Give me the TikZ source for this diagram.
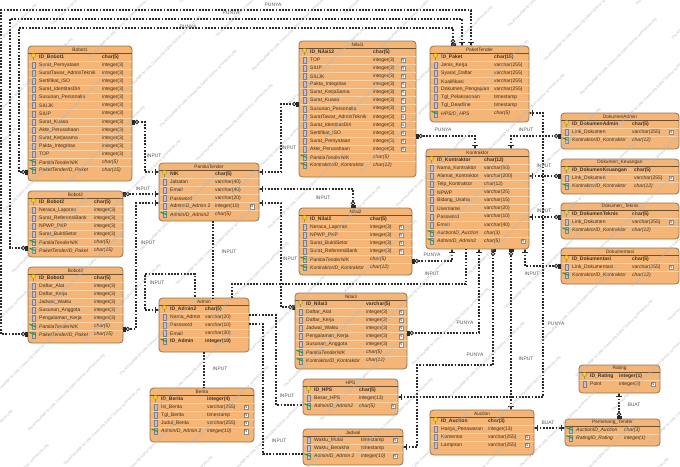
\documentclass[tikz,border=0pt]{standalone}
\usepackage{fontspec}
\setmainfont{Liberation Sans}
\usetikzlibrary{arrows.meta}

\definecolor{erfill}{HTML}{F4B577}
\definecolor{erline}{HTML}{94744F}
\definecolor{errow}{HTML}{FAD4A8}
\definecolor{ertext}{HTML}{3E2F20}
\definecolor{reldash}{HTML}{2A2A2A}

\tikzset{
  onemark/.tip={Bar[width=5.5pt,line width=.8pt]Square[length=3pt,width=1.1pt]},
  zeromark/.tip={Circle[open,fill=white,length=4.4pt,width=4.4pt,line width=.9pt]Square[length=2.6pt,width=5pt]},
  erbox/.style={draw=erline,line width=.8pt,fill=erfill,rounded corners=3.5pt,anchor=north west,inner sep=0pt,outer sep=0pt},
  ertitle/.style={inner sep=0pt,text=ertext,font=\fontsize{4.8}{5}\selectfont},
  ercell/.style={anchor=west,inner sep=0pt,text=ertext,font=\fontsize{5}{5.5}\selectfont},
  nullbox/.style={draw=black!45,fill=white!85!erfill,line width=.3pt,minimum size=4.6pt,inner sep=0pt,text=black!70,font=\fontsize{3.8}{4}\selectfont},
  rel/.style={draw=reldash,line width=1.1pt,dash pattern=on 1.7pt off 1.5pt},
  rellabel/.style={inner sep=0pt,text=black!65,font=\fontsize{5}{5.5}\selectfont},
  watermark/.style={rotate=45,anchor=west,inner sep=0pt,text=black!28,font=\fontsize{3.5}{4}\selectfont}
}

\newcommand{\colicon}{%
  \draw[draw=black!50,fill=blue!45!gray!35,line width=.3pt] (\rx-1.8,\ry-3) rectangle (\rx+1.8,\ry+3);}
\newcommand{\fkicon}{\colicon
  \draw[green!55!black!85,line width=1.2pt] (\rx-4,\ry-2.4) -- (\rx+2.5,\ry+.2);}
\newcommand{\nullicon}{\node (\tname-\n-null) [nullbox] at (\nulx,\ry) {N};}
\newcommand{\iconk}{\def\colfont{\bfseries}
  \draw[draw=yellow!55!black,line width=.8pt] (\rx,\ry-1) -- (\rx,\ry+3.2);
  \draw[draw=yellow!50!black,fill=yellow!75!orange,line width=.4pt] (\rx,\ry-1.6) circle (2);}
\newcommand{\iconc}{\colicon}
\newcommand{\iconn}{\colicon\nullicon}
\newcommand{\iconf}{\def\colfont{\itshape}\fkicon}
\newcommand{\icong}{\def\colfont{\itshape}\fkicon\nullicon}
\newcommand{\iconb}{\def\colfont{\bfseries}\fkicon}

% name, x1, y1, x2, y2, title, type column, null column, rows
\newcommand{\ertable}[9]{%
  \node (#1) [erbox,minimum width=#4pt-#2pt,minimum height=#5pt-#3pt] at (#2,#3) {};
  \node (#1-title) [ertitle] at ({(#2+#4)/2},#3+3.6) {#6};
  \draw[erline!70!black,line width=.5pt] (#2,#3+7) -- (#4,#3+7);
  \def\tname{#1}\def\nulx{#8}\pgfmathsetmacro{\rx}{#2+5.5}
  \foreach \kind/\colname/\coltype [count=\n] in {#9} {
    \pgfmathsetmacro{\ry}{#3+11+8.1*(\n-1)}
    \ifnum\n>1 \draw[errow,line width=.4pt] (#2+.5,\ry-4.05) -- (#4-.5,\ry-4.05);\fi
    \let\colfont\relax
    \csname icon\kind\endcsname
    \node (#1-\n) [ercell] at (#2+11,\ry) {\colfont\colname};
    \node (#1-\n-type) [ercell] at (#7,\ry) {\colfont\coltype};
  }
}

\begin{document}
\begin{tikzpicture}[x=1pt,y=-1pt]
  \useasboundingbox (0,0) rectangle (680,466);

  \ertable{Bobot1}{28}{46}{132}{181}{Bobot1}{102}{0}{k/ID\_Bobot1/char(5),
    c/Surat\_Pernyataan/integer(3),c/SuratTawar\_AdminTeknik/integer(3),c/Sertifikat\_ISO/integer(3),
    c/Surat\_IdentitasDiri/integer(3),c/Susunan\_Personalia/integer(3),c/SIUJK/integer(3),c/SIUP/integer(3),
    c/Surat\_Kuasa/integer(3),c/Akte\_Perusahaan/integer(3),c/Surat\_Kerjasama/integer(3),
    c/Pakta\_Integritas/integer(3),c/TOP/integer(3),f/PanitiaTenderNIK/char(5),f/PaketTenderID\_Paket/char(15)}
  \ertable{Bobot2}{28}{191}{123}{257}{Bobot2}{94}{0}{k/ID\_Bobot2/char(5),
    c/Neraca\_Laporan/integer(3),c/Surat\_ReferensiBank/integer(3),c/NPWP\_PKP/integer(3),
    c/Surat\_BuktiSetor/integer(3),f/PanitiaTenderNIK/char(5),f/PaketTenderID\_Paket/char(15)}
  \ertable{Bobot3}{28}{267}{123}{343}{Bobot3}{94}{0}{k/ID\_Bobot3/char(5),
    c/Daftar\_Alat/integer(3),c/Daftar\_Kerja/integer(3),c/Jadwal\_Waktu/integer(3),c/Susunan\_Anggota/integer(3),
    c/Pengalaman\_Kerja/integer(3),f/PanitiaTenderNIK/char(5),f/PaketTenderID\_Paket/char(15)}
  \ertable{PanitiaTender}{159}{163}{259}{221}{PanitiaTender}{215}{252}{k/NIK/char(5),
    c/Jabatan/varchar(40),c/Email/varchar(40),c/Password/varchar(20),n/AdminID\_Admin 2/integer(10),
    f/AdminID\_Admin2/char(5)}
  \ertable{Admin}{159}{298}{249}{352}{Admin}{205}{0}{k/ID\_Admin2/char(5),
    c/Nama\_Admin/varchar(20),c/Password/varchar(10),c/Email/varchar(30),b/ID\_Admin/integer(10)}
  \ertable{Berita}{150}{388}{254}{442}{Berita}{207}{246}{k/ID\_Berita/integer(4),
    n/Isi\_Berita/varchar(255),n/Tgl\_Berita/timestamp,n/Judul\_Berita/varchar(255),g/AdminID\_Admin 2/integer(10)}
  \ertable{Nilai1}{299}{41}{416}{177}{Nilai1}{373}{403}{k/ID\_Nilai12/char(5),
    n/TOP/integer(3),n/SIUP/integer(3),n/SIUJK/integer(3),n/Pakta\_Integritas/integer(3),
    n/Surat\_KerjaSama/integer(3),n/Surat\_Kuasa/integer(3),n/Susunan\_Personalia/integer(3),
    n/SuratTawar\_AdminTeknik/integer(3),n/Surat\_IdentitasDiri/integer(3),n/Sertifikat\_ISO/integer(3),
    n/Surat\_Pernyataan/integer(3),n/Akte\_Perusahaan/integer(3),f/PanitiaTenderNIK/char(5),
    f/KontraktorID\_Kontraktor/char(12)}
  \ertable{PaketTender}{430}{46}{529}{122}{PaketTender}{494}{0}{k/ID\_Paket/char(15),
    c/Jenis\_Kerja/varchar(255),c/Syarat\_Daftar/varchar(255),c/Kualifikasi/varchar(255),
    c/Dokumen\_Pengajuan/varchar(255),c/Tgl\_Pelaksanaan/timestamp,c/Tgl\_Deadline/timestamp,f/HPSID\_HPS/char(5)}
  \ertable{Kontraktor}{426}{149}{529}{249}{Kontraktor}{484}{523}{k/ID\_Kontraktor/char(12),
    c/Nama\_Kontraktor/varchar(50),c/Alamat\_Kontraktor/varchar(200),c/Telp\_Kontraktor/char(12),c/NPWP/varchar(25),
    c/Bidang\_Usaha/varchar(15),c/Username/varchar(20),c/Password/varchar(10),c/Email/varchar(40),
    f/AuctionID\_Auction/char(3),g/AdminID\_Admin2/char(5)}
  \ertable{Nilai2}{299}{208}{412}{275}{Nilai2}{370}{401}{k/ID\_Nilai2/char(5),
    n/Neraca\_Laporan/integer(3),n/NPWP\_PKP/integer(3),n/Surat\_BuktiSetor/integer(3),
    n/Surat\_ReferensiBank/integer(3),f/PanitiaTenderNIK/char(5),f/KontraktorID\_Kontraktor/char(12)}
  \ertable{Nilai3}{295}{293}{407}{369}{Nilai3}{366}{401}{k/ID\_Nilai3/varchar(5),
    n/Daftar\_Alat/integer(3),n/Daftar\_Kerja/integer(3),n/Jadwal\_Waktu/integer(3),n/Pengalaman\_Kerja/integer(3),
    n/Susunan\_Anggota/integer(3),f/PanitiaTenderNIK/char(5),f/KontraktorID\_Kontraktor/char(12)}
  \ertable{HPS}{303}{379}{398}{415}{HPS}{359}{393}{k/ID\_HPS/char(5),c/Besar\_HPS/integer(13),g/AdminID\_Admin2/char(5)}
  \ertable{Jadwal}{303}{429}{403}{465}{Jadwal}{361}{395}{n/Waktu\_Mulai/timestamp,c/Waktu\_Berakhir/timestamp,
    g/AdminID\_Admin 2/integer(10)}
  \ertable{DokumenAdmin}{561}{113}{679}{149}{DokumenAdmin}{632}{671}{k/ID\_DokumenAdmin/char(5),
    n/Link\_Dokumen/varchar(255),f/KontraktorID\_Kontraktor/char(12)}
  \ertable{DokumenKeuangan}{561}{159}{679}{194}{Dokumen\_Keuangan}{634}{671}{k/ID\_DokumenKeuangan/char(5),
    n/Link\_Dokumen/varchar(255),f/KontraktorID\_Kontraktor/char(12)}
  \ertable{DokumenTeknis}{561}{203}{679}{239}{Dokumen\_Teknis}{632}{671}{k/ID\_DokumenTeknis/char(5),
    n/Link\_Dokumen/varchar(255),f/KontraktorID\_Kontraktor/char(12)}
  \ertable{Dokumentasi}{561}{248}{679}{284}{Dokumentasi}{632}{671}{k/ID\_Dokumentasi/char(5),
    n/Link\_Dokumentasi/varchar(255),f/KontraktorID\_Kontraktor/char(12)}
  \ertable{Auction}{430}{410}{534}{455}{Auction}{488}{527}{k/ID\_Auction/char(3),
    c/Harga\_Penawaran/integer(13),n/Komentar/varchar(255),n/Lampiran/varchar(255)}
  \ertable{Rating}{579}{365}{660}{393}{Rating}{619}{653}{k/ID\_Rating/integer(1),n/Point/integer(3)}
  \ertable{PemenangTender}{565}{419}{660}{446}{Pemenang\_Tender}{624}{0}{f/AuctionID\_Auction/char(3),
    f/RatingID\_Rating/integer(1)}

  \begin{scope}[rel]
    \draw[{onemark}-{zeromark}] (PanitiaTender.west |- 0,172) -- (145,172) |- (Bobot1.east |- 0,122);
    \draw[{onemark}-{zeromark}] (PanitiaTender.west |- 0,194) -- (Bobot2.east |- 0,194);
    \draw[{onemark}-{zeromark}] (PanitiaTender.west |- 0,203) -| (136,329) -- (Bobot3.east |- 0,329);
    \draw[{onemark}-{zeromark}] (PanitiaTender.east |- 0,172) -| (281,104) -- (Nilai1.west |- 0,104);
    \draw[{onemark}-{zeromark}] (PanitiaTender.east |- 0,189) -| (Nilai2.north -| 353,0);
    \draw[{onemark}-{zeromark}] (PanitiaTender.east |- 0,203) -| (281,307) -- (Nilai3.west |- 0,307);
    \draw (PanitiaTender.south -| 213,0) -- (Admin.north -| 213,0);

    \draw[{onemark}-] (Admin.west |- 0,310) -| (145,274) -| (Admin.north -| 195,0);
    \draw (Admin.north -| 232,0) |- (466,284) -- (Kontraktor.south -| 466,0);
    \draw (Admin.east |- 0,315) -| (276,405) -- (HPS.west |- 0,405);
    \draw (Admin.east |- 0,324) -| (263,454) -- (Jadwal.west |- 0,454);
    \draw (Admin.south -| 204,0) -- (Berita.north -| 204,0);

    \draw[{onemark}-{zeromark}] (Kontraktor.north -| 475,0) |- (Nilai1.east |- 0,136);
    \draw[{onemark}-{zeromark}] (Kontraktor.north -| 511,0) |- (DokumenAdmin.west |- 0,136);
    \draw[{onemark}-{zeromark}] (Kontraktor.south -| 452,0) |- (Nilai2.east |- 0,261);
    \draw[{onemark}-{zeromark}] (Kontraktor.south -| 479,0) |- (Nilai3.east |- 0,333);
    \draw[{onemark}-{zeromark}] (Kontraktor.south -| 525,0) |- (Dokumentasi.west |- 0,266);
    \draw[{onemark}-{zeromark}] (Kontraktor.east |- 0,176) -- (DokumenKeuangan.west |- 0,176);
    \draw[{onemark}-{zeromark}] (Kontraktor.east |- 0,217) -- (DokumenTeknis.west |- 0,217);
    \draw[{onemark}-{zeromark}] (Auction.north -| 511,0) -- (Kontraktor.south -| 511,0);
    \draw[{onemark}-{zeromark}] (Jadwal.east |- 0,447) -| (417,365) -| (Kontraktor.south -| 493,0);

    \draw[{onemark}-{onemark}] (HPS.east |- 0,397) -| (543,113) -- (PaketTender.east |- 0,113);
    \draw[{onemark}-{onemark}] (Auction.east |- 0,428) -- (PemenangTender.west |- 0,428);
    \draw[{onemark}-{zeromark}] (Rating.south -| 619,0) -- (PemenangTender.north -| 619,0);

    \draw[{onemark}-{zeromark}] (PaketTender.north -| 471,0) |- (1,10) |- (Bobot3.west |- 0,334);
    \draw[{onemark}-{zeromark}] (PaketTender.north -| 462,0) |- (10,19) |- (Bobot2.west |- 0,248);
    \draw[{zeromark}-{zeromark}] (PaketTender.north -| 453,0) |- (19,28) |- (Bobot1.west |- 0,172);
  \end{scope}

  \node (punyaA) [rellabel] at (273,5) {PUNYA};
  \node (punyaB) [rellabel] at (231,13) {PUNYA};
  \node (punyaC) [rellabel] at (188,27) {PUNYA};
  \node (punyaD) [rellabel] at (443,130) {PUNYA};
  \node (punyaE) [rellabel] at (432,255) {PUNYA};
  \node (punyaF) [rellabel] at (465,323) {PUNYA};
  \node (punyaG) [rellabel] at (475,355) {PUNYA};
  \node (punyaH) [rellabel] at (556,324) {PUNYA};
  \node (inputA) [rellabel] at (154,156) {INPUT};
  \node (inputB) [rellabel] at (143,189) {INPUT};
  \node (inputC) [rellabel] at (148,243) {INPUT};
  \node (inputD) [rellabel] at (229,252) {INPUT};
  \node (inputE) [rellabel] at (157,283) {INPUT};
  \node (inputF) [rellabel] at (289,148) {INPUT};
  \node (inputG) [rellabel] at (323,198) {INPUT};
  \node (inputH) [rellabel] at (290,259) {INPUT};
  \node (inputI) [rellabel] at (526,130) {INPUT};
  \node (inputJ) [rellabel] at (544,166) {INPUT};
  \node (inputK) [rellabel] at (544,211) {INPUT};
  \node (inputL) [rellabel] at (532,274) {INPUT};
  \node (inputM) [rellabel] at (432,274) {INPUT};
  \node (inputN) [rellabel] at (526,359) {INPUT};
  \node (inputO) [rellabel] at (220,369) {INPUT};
  \node (inputP) [rellabel] at (287,396) {INPUT};
  \node (inputQ) [rellabel] at (279,441) {INPUT};
  \node (buatA) [rellabel] at (548,423) {BUAT};
  \node (buatB) [rellabel] at (634,405) {BUAT};

  \begin{scope}
    \clip (0,0) rectangle (680,466);
    \foreach \i in {-3,...,8} \foreach \j in {-9,...,8}{
      \pgfmathtruncatemacro{\wmshow}{and(and(28+92*\i+36*\j<680,109+92*\i+36*\j>0),and(431-56*\i+34*\j>0,350-56*\i+34*\j<466))}
      \ifnum\wmshow=1
        \node (wm\i\j) [watermark] at ({28+92*\i+36*\j},{431-56*\i+34*\j})
          {Visual Paradigm for UML Community Edition [not for commercial use]};
      \fi}
  \end{scope}
\end{tikzpicture}
\end{document}
